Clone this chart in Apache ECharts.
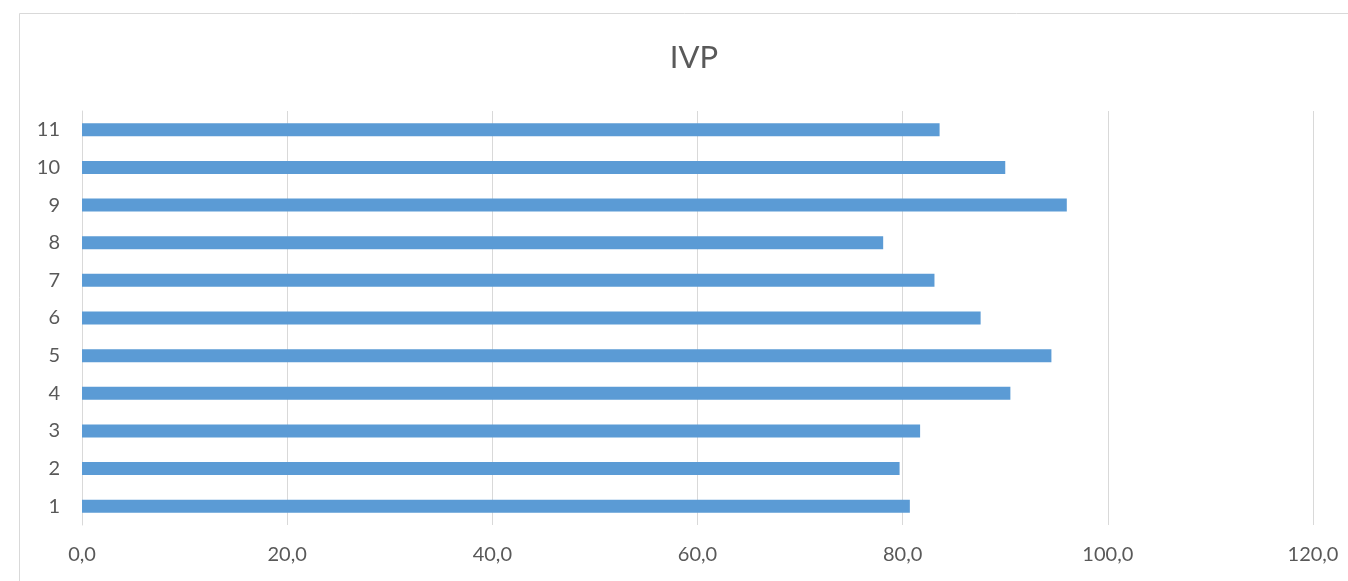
<!DOCTYPE html>
<html>
<head>
<meta charset="utf-8">
<script src="https://cdn.jsdelivr.net/npm/echarts@6/dist/echarts.min.js"></script>
<style>
html,body{margin:0;padding:0;background:#fff;}
#chart{width:1348px;height:581px;}
</style>
</head>
<body>
<div id="chart"></div>
<script>
const titleText = 'IVP';
const categories = ['1','2','3','4','5','6','7','8','9','10','11'];
const values = [80.7, 79.7, 81.7, 90.5, 94.5, 87.6, 83.1, 78.1, 96.0, 90.0, 83.6];
const xMin = 0, xMax = 120, xStep = 20;

const chart = echarts.init(document.getElementById('chart'));
const font = 'Lato, "Open Sans", sans-serif';
chart.setOption({
  backgroundColor: '#fff',
  animation: false,
  graphic: [{
    type: 'rect', shape: {x: 19.5, y: 13.5, width: 1340, height: 600},
    style: {fill: 'none', stroke: '#d9d9d9', lineWidth: 1}, silent: true
  }, {
    type: 'text', x: 694, y: 58,
    style: {text: titleText, fontFamily: font, fontSize: 31, fill: '#595959',
            textAlign: 'center', textVerticalAlign: 'middle'}
  }],
  grid: {left: 82, right: 35, top: 111, bottom: 56, containLabel: false},
  xAxis: {
    type: 'value', min: xMin, max: xMax, interval: xStep,
    axisLine: {show: false}, axisTick: {show: false},
    splitLine: {show: true, lineStyle: {color: '#d9d9d9', width: 1}},
    axisLabel: {
      fontFamily: font, fontSize: 20, color: '#595959', margin: 20,
      formatter: v => v.toFixed(1).replace('.', ',')
    }
  },
  yAxis: {
    type: 'category', data: categories,
    axisLine: {show: true, lineStyle: {color: '#d9d9d9', width: 1}},
    axisTick: {show: false},
    axisLabel: {fontFamily: font, fontSize: 20, color: '#595959', margin: 22}
  },
  series: [{
    type: 'bar', data: values, barWidth: 13,
    itemStyle: {color: '#5b9bd5'}
  }]
});
</script>
</body>
</html>
